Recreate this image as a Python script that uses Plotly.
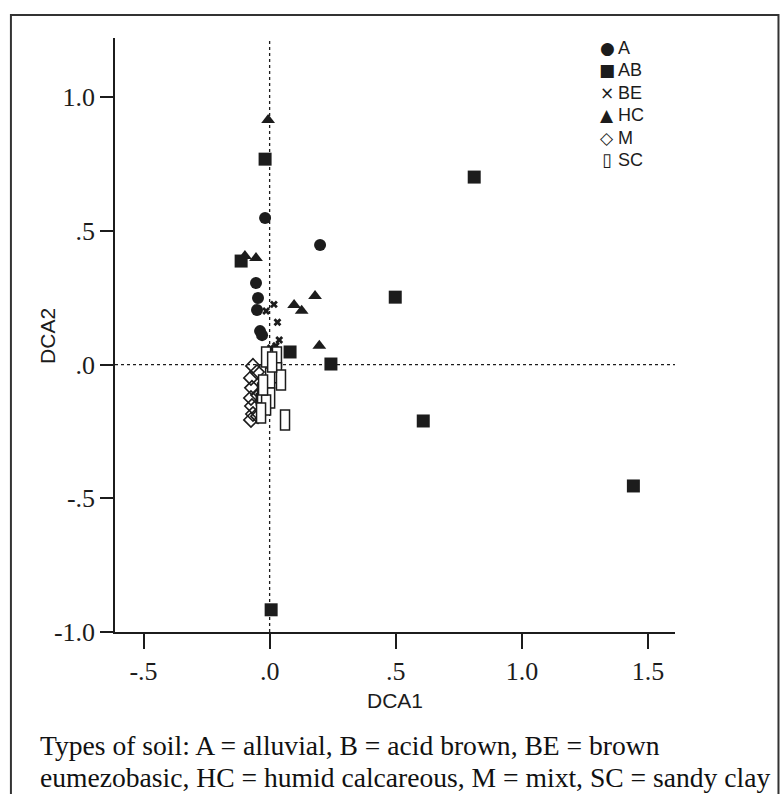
import plotly.graph_objects as go

# ---- data ----
A_x = [-0.018, 0.200, -0.054, -0.046, -0.050, -0.038, -0.030]
A_y = [0.548, 0.447, 0.305, 0.249, 0.204, 0.125, 0.110]

AB_x = [-0.018, 0.811, 0.498, 0.081, 0.243, 0.609, 1.442, 0.006, -0.113, -0.020, -0.030]
AB_y = [0.768, 0.701, 0.252, 0.047, 0.002, -0.211, -0.454, -0.917, 0.387, -0.080, -0.130]

BE_x = [0.017, 0.031, 0.038, 0.025, -0.014, 0.004]
BE_y = [0.225, 0.158, 0.092, 0.070, 0.200, 0.062]

HC_x = [-0.006, 0.097, 0.127, 0.180, 0.197, -0.098, -0.054]
HC_y = [0.914, 0.223, 0.201, 0.256, 0.070, 0.406, 0.398]

M_x = [-0.066, -0.074, -0.070, -0.074, -0.070, -0.066, -0.074, -0.050, -0.046, -0.046]
M_y = [-0.005, -0.050, -0.087, -0.125, -0.155, -0.185, -0.207, -0.028, -0.114, -0.193]

SC_x = [-0.014, 0.029, 0.029, 0.002, 0.045, -0.030, 0.002, -0.014, -0.034, 0.061, 0.010, -0.026]
SC_y = [0.028, 0.028, -0.031, -0.050, -0.058, -0.106, -0.125, -0.151, -0.181, -0.207, 0.010, -0.076]

x_ticks = [-0.5, 0.0, 0.5, 1.0, 1.5]
x_ticktext = ["-.5", ".0", ".5", "1.0", "1.5"]
y_ticks = [-1.0, -0.5, 0.0, 0.5, 1.0]
y_ticktext = ["-1.0", "-.5", ".0", ".5", "1.0"]

legend_names = ["A", "AB", "BE", "HC", "M", "SC"]
legend_glyphs = ["\u25CF", "\u25A0", "\u00D7", "\u25B2", "\u25C7", "\u25AF"]

caption_lines = [
    "Types of soil: A = alluvial, B = acid brown, BE = brown",
    "eumezobasic, HC = humid calcareous, M = mixt, SC = sandy clay",
]

INK = "#1c1c1c"

# plot area geometry (page pixels)
W, H = 782, 794
PL, PR, PT, PB = 115, 674.6, 38, 632
PW, PH = PR - PL, PB - PT


def px(xp):
    return (xp - PL) / PW


def py(yp):
    return (PB - yp) / PH


fig = go.Figure()

fig.add_trace(go.Scatter(x=M_x, y=M_y, mode="markers", name="M",
                         marker=dict(symbol="diamond-open", size=11, color=INK, line=dict(width=1.6, color=INK))))
fig.add_trace(go.Scatter(x=A_x, y=A_y, mode="markers", name="A",
                         marker=dict(symbol="circle", size=12, color=INK)))
fig.add_trace(go.Scatter(x=AB_x, y=AB_y, mode="markers", name="AB",
                         marker=dict(symbol="square", size=13, color=INK)))
fig.add_trace(go.Scatter(x=BE_x, y=BE_y, mode="markers", name="BE",
                         marker=dict(symbol="x", size=7, color=INK, line=dict(width=0))))
fig.add_trace(go.Scatter(x=HC_x, y=HC_y, mode="markers", name="HC",
                         marker=dict(symbol="triangle-up", size=12, color=INK)))

shapes = []
shapes.append(dict(type="line", xref="x", yref="paper", x0=0, x1=0, y0=0, y1=1,
                   line=dict(color=INK, width=1.3, dash="dot"), layer="below"))
shapes.append(dict(type="line", xref="paper", yref="y", x0=0, x1=1, y0=0, y1=0,
                   line=dict(color=INK, width=1.3, dash="dot"), layer="below"))
for sx, sy in zip(SC_x, SC_y):
    shapes.append(dict(type="rect", xref="x", yref="y",
                       xsizemode="pixel", xanchor=sx, x0=-4.5, x1=4.5,
                       ysizemode="pixel", yanchor=sy, y0=-10, y1=10,
                       fillcolor="white", line=dict(color=INK, width=1.5), layer="above"))
shapes.append(dict(type="rect", xref="paper", yref="paper",
                   x0=px(11), x1=px(778), y0=py(800), y1=py(15),
                   line=dict(color="#333333", width=2), fillcolor="rgba(0,0,0,0)", layer="below"))

annotations = []
for i, (g, n) in enumerate(zip(legend_glyphs, legend_names)):
    yy = py(48 + i * 22.4)
    annotations.append(dict(xref="paper", yref="paper", x=px(607), y=yy,
                            text=g, showarrow=False, xanchor="center", yanchor="middle",
                            font=dict(family="DejaVu Sans", size=18 if g == "\u25AF" else 17, color=INK)))
    annotations.append(dict(xref="paper", yref="paper", x=px(616), y=yy,
                            text=n, showarrow=False, xanchor="left", yanchor="middle",
                            font=dict(family="Liberation Sans", size=18, color=INK)))
for i, line in enumerate(caption_lines):
    annotations.append(dict(xref="paper", yref="paper", x=px(38),
                            y=py(746 + i * 32),
                            text=line, showarrow=False, xanchor="left", yanchor="middle",
                            font=dict(family="Liberation Serif", size=27.6, color="#111111")))
annotations.append(dict(xref="paper", yref="paper", x=px(47), y=py(336),
                        text="DCA2", textangle=-90, showarrow=False,
                        xanchor="center", yanchor="middle",
                        font=dict(family="Liberation Sans", size=21, color=INK)))

fig.update_layout(
    width=W, height=H,
    margin=dict(l=PL, r=W - PR, t=PT, b=H - PB),
    paper_bgcolor="white", plot_bgcolor="white",
    showlegend=False,
    shapes=shapes,
    annotations=annotations,
    xaxis=dict(range=[-0.613, 1.607], showgrid=False, zeroline=False,
               showline=True, linecolor=INK, linewidth=1.5,
               ticks="outside", ticklen=15, tickwidth=1.5, tickcolor=INK,
               tickvals=x_ticks, ticktext=x_ticktext,
               tickfont=dict(family="Liberation Serif", size=26, color=INK),
               title=dict(text="DCA1", font=dict(family="Liberation Sans", size=21, color=INK), standoff=8)),
    yaxis=dict(range=[-1.0, 1.221], showgrid=False, zeroline=False,
               showline=True, linecolor=INK, linewidth=1.5,
               ticks="outside", ticklen=13, tickwidth=1.5, tickcolor=INK,
               tickvals=y_ticks, ticktext=y_ticktext,
               tickfont=dict(family="Liberation Serif", size=26, color=INK)),
)

# remove the default page margin so the figure fills the 782x794 window exactly
fig.write_html("out.html",
               config={"displayModeBar": False},
               post_script="document.body.style.margin='0';document.body.style.overflow='hidden';")
